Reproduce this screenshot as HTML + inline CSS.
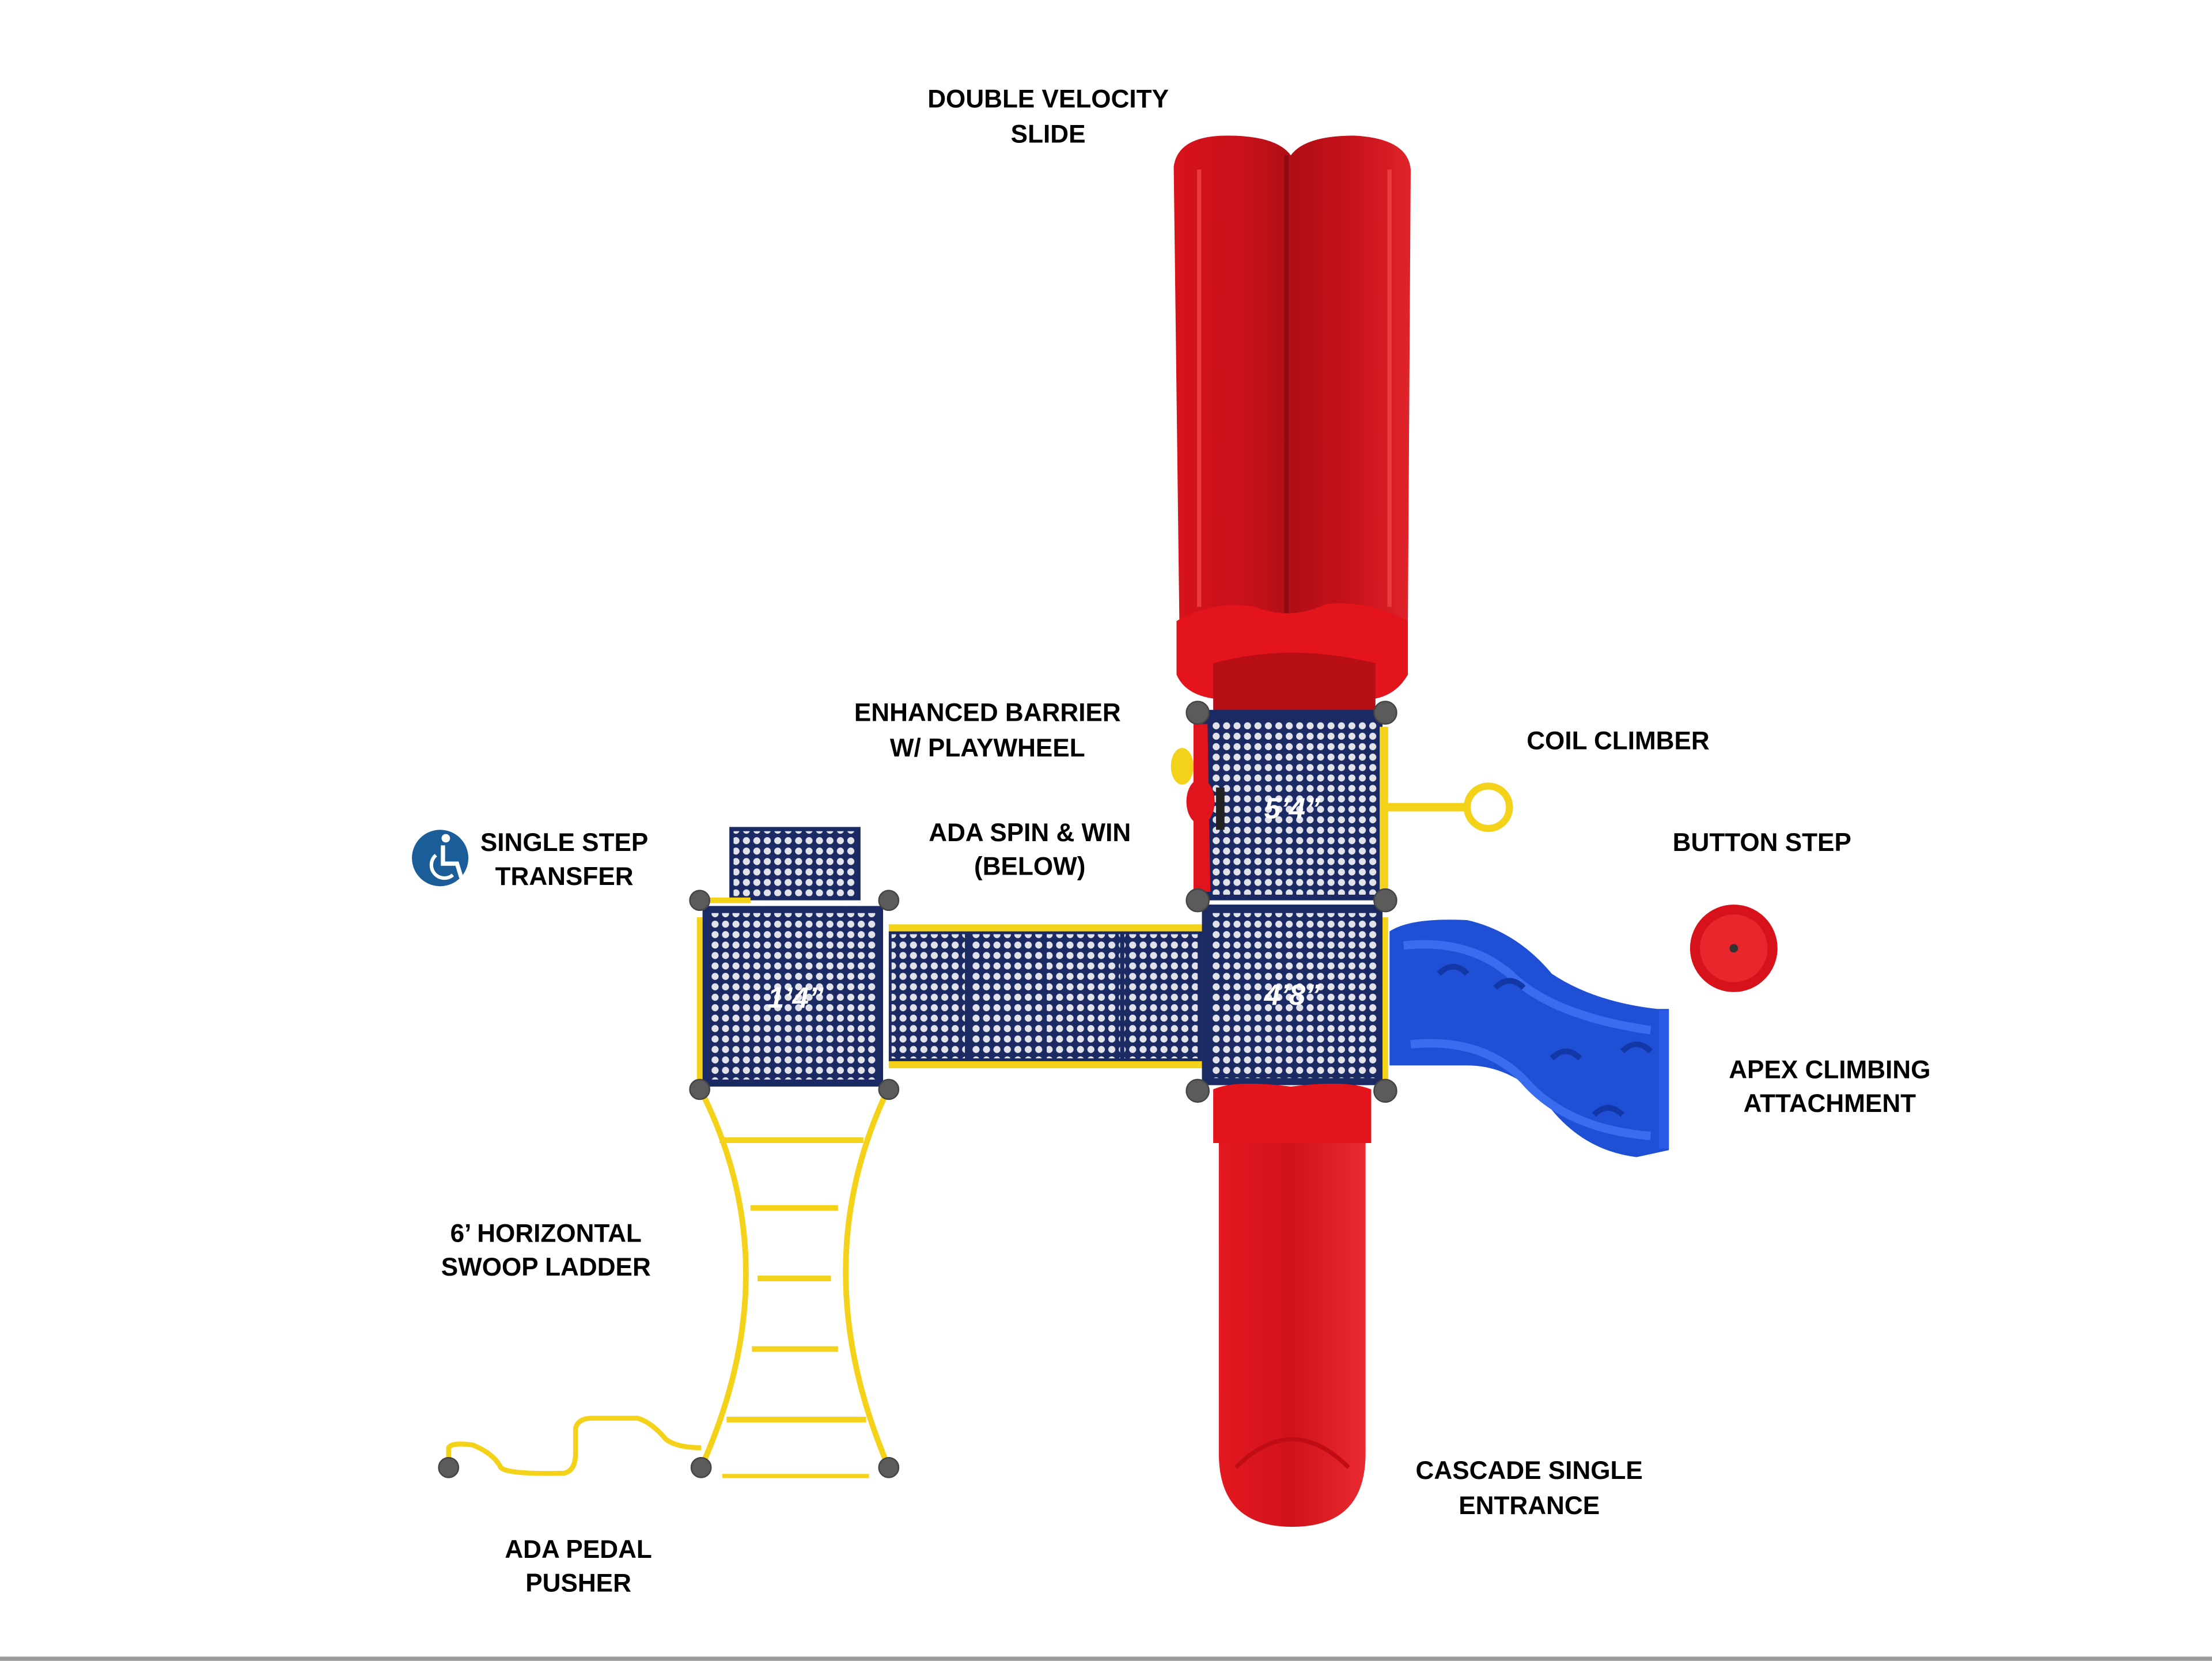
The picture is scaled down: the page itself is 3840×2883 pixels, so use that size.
<!DOCTYPE html>
<html><head><meta charset="utf-8"><style>
html,body{margin:0;padding:0;background:#fff;}
svg{display:block;}
text{font-family:"Liberation Sans",sans-serif;font-weight:bold;font-size:18px;fill:#000;text-anchor:middle;}
.d{fill:#fff;font-size:21px;font-style:italic;}
</style></head><body>
<svg width="3840" height="2883" viewBox="0 0 1568 1177" xmlns="http://www.w3.org/2000/svg">
<defs>
<pattern id="dots" width="7.4" height="7.4" patternUnits="userSpaceOnUse">
<rect width="7.4" height="7.4" fill="#1b2a63"/><circle cx="3.7" cy="3.7" r="2.5" fill="#e2e3ea"/>
</pattern>
<linearGradient id="red" x1="0" x2="1"><stop offset="0" stop-color="#d8121a"/><stop offset="0.3" stop-color="#c8111a"/><stop offset="0.5" stop-color="#b00e16"/><stop offset="0.75" stop-color="#c8111a"/><stop offset="1" stop-color="#e0242a"/></linearGradient>
<linearGradient id="red2" x1="0" x2="1"><stop offset="0" stop-color="#e41820"/><stop offset="0.5" stop-color="#d0121a"/><stop offset="1" stop-color="#ea2a30"/></linearGradient>
</defs>
<rect width="1568" height="1177" fill="#fff"/>
<rect x="0" y="1174" width="1568" height="3" fill="#9a9a9a"/>

<!-- top slide -->
<path d="M832 118 Q835 96 870 96 Q905 96 915 110 Q925 96 960 96 Q998 98 1000 120 L998 440 L836 440 Z" fill="url(#red)"/>
<path d="M912 110 L912 440" stroke="#8e0b12" stroke-width="3"/>
<path d="M850 120 L850 430 M985 120 L985 430" stroke="#e83a3f" stroke-width="3"/>
<path d="M834 440 Q860 425 890 430 Q915 440 940 428 Q970 425 998 440 L998 478 Q990 492 975 495 L860 495 Q840 492 834 478 Z" fill="#e3141c"/>
<path d="M860 470 Q915 455 975 470 L975 505 L860 505 Z" fill="#b80f17"/>

<!-- top-right deck -->
<rect x="852" y="503" width="128" height="135" fill="#1b2a63"/>
<rect x="858" y="510" width="118" height="124" fill="url(#dots)"/>
<text class="d" x="916" y="580">5’4”</text>
<ellipse cx="838" cy="543" rx="8" ry="13" fill="#f3d21c"/>
<path d="M846 513 L856 513 L858 632 L846 632 Z" fill="#e0141c"/>
<ellipse cx="851" cy="568" rx="10" ry="16" fill="#e0141c"/>
<rect x="862" y="558" width="6" height="30" fill="#222"/>
<rect x="978" y="515" width="6" height="118" fill="#f5d21a"/>
<rect x="978" y="650" width="6" height="115" fill="#f5d21a"/>
<rect x="982" y="569" width="58" height="6" fill="#f5d21a"/>
<circle cx="1055" cy="572" r="15" fill="none" stroke="#f5d21a" stroke-width="5"/>

<!-- right-center deck -->
<rect x="852" y="641" width="128" height="128" fill="#1b2a63"/>
<rect x="858" y="647" width="118" height="117" fill="url(#dots)"/>
<text class="d" x="916" y="712">4’8”</text>

<!-- bridge -->
<rect x="630" y="655" width="222" height="5" fill="#f5d21a"/>
<rect x="630" y="752" width="222" height="5" fill="#f5d21a"/>
<rect x="630" y="660" width="222" height="92" fill="#1b2a63"/>
<rect x="632" y="662" width="52" height="88" fill="url(#dots)"/>
<rect x="687" y="662" width="52" height="88" fill="url(#dots)"/>
<rect x="742" y="662" width="52" height="88" fill="url(#dots)"/>
<rect x="797" y="662" width="52" height="88" fill="url(#dots)"/>

<!-- left deck and step -->
<rect x="517" y="586" width="93" height="52" fill="#1b2a63"/>
<rect x="520" y="589" width="87" height="46" fill="url(#dots)"/>
<rect x="498" y="642" width="128" height="128" fill="#1b2a63"/>
<rect x="503" y="647" width="118" height="118" fill="url(#dots)"/>
<text class="d" x="564" y="714">1’4”</text>
<rect x="500" y="636" width="32" height="4" fill="#f5d21a"/>
<rect x="494" y="650" width="4" height="115" fill="#f5d21a"/>

<!-- blue climber -->
<path d="M985 660 Q1000 650 1040 652 Q1075 660 1100 690 Q1130 710 1175 715 L1183 715 L1183 815 L1160 820 Q1120 815 1095 780 Q1070 755 1040 755 L985 755 Z" fill="#1f4fd4"/>
<path d="M995 670 Q1040 665 1070 690 Q1100 720 1170 730 M1000 740 Q1050 735 1080 765 Q1110 800 1170 805" stroke="#3a6cf0" stroke-width="6" fill="none"/>
<path d="M1020 690 q10 -10 20 0 M1060 700 q10 -10 20 0 M1100 750 q10 -10 20 0 M1130 790 q10 -10 20 0 M1150 745 q10 -10 20 0" stroke="#1238a8" stroke-width="4" fill="none"/>
<rect x="1176" y="716" width="7" height="98" fill="#2a5ae6"/>

<!-- button step -->
<circle cx="1229" cy="672" r="31" fill="#d8121a"/>
<circle cx="1229" cy="672" r="24" fill="#e8262c"/>
<circle cx="1229" cy="672" r="3" fill="#333"/>

<!-- bottom slide -->
<path d="M860 772 Q875 765 915 770 Q955 765 972 772 L972 810 L860 810 Z" fill="#e3141c"/>
<path d="M864 810 L968 810 L968 1030 Q968 1082 916 1082 Q864 1082 864 1030 Z" fill="url(#red2)"/>
<path d="M876 1040 Q916 1000 956 1040" stroke="#c00d15" stroke-width="3" fill="none"/>

<!-- ladder -->
<g stroke="#f5d21a" fill="none" stroke-width="4">
<path d="M498 775 Q560 900 497 1040"/>
<path d="M628 775 Q570 900 630 1040"/>
<path d="M510 808 L612 808 M532 856 L594 856 M537 906 L589 906 M533 956 L594 956 M515 1006 L614 1006"/>
<path d="M512 1046 L616 1046" stroke-width="3"/>
<path d="M318 1040 L318 1026 Q320 1022 335 1024 Q350 1030 355 1040 Q360 1045 400 1044 Q408 1042 408 1030 L408 1012 Q410 1005 420 1005 L452 1005 Q462 1008 472 1020 Q480 1026 497 1026" stroke-width="3.5"/>
</g>

<!-- posts -->
<g fill="#5b5b5b" stroke="#444" stroke-width="1">
<circle cx="849" cy="505" r="8"/><circle cx="982" cy="505" r="8"/>
<circle cx="849" cy="638" r="8"/><circle cx="982" cy="638" r="8"/>
<circle cx="849" cy="773" r="8"/><circle cx="982" cy="773" r="8"/>
<circle cx="496" cy="638" r="7"/><circle cx="630" cy="638" r="7"/>
<circle cx="496" cy="772" r="7"/><circle cx="630" cy="772" r="7"/>
<circle cx="497" cy="1040" r="7"/><circle cx="630" cy="1040" r="7"/>
<circle cx="318" cy="1040" r="7"/>
</g>

<!-- ADA icon -->
<circle cx="312" cy="608" r="20" fill="#1b5d98"/>
<circle cx="316" cy="594" r="3" fill="#fff"/>
<path d="M314 599 L314 612 L324 612 L327 622" stroke="#fff" stroke-width="3" fill="none"/>
<path d="M309 606 A9 9 0 1 0 321 620" stroke="#fff" stroke-width="2.5" fill="none"/>

<!-- labels -->
<text x="743" y="76">DOUBLE VELOCITY</text><text x="743" y="101">SLIDE</text>
<text x="700" y="511">ENHANCED BARRIER</text><text x="700" y="536">W/ PLAYWHEEL</text>
<text x="1147" y="531">COIL CLIMBER</text>
<text x="1249" y="603">BUTTON STEP</text>
<text x="730" y="596">ADA SPIN &amp; WIN</text><text x="730" y="620">(BELOW)</text>
<text x="400" y="603">SINGLE STEP</text><text x="400" y="627">TRANSFER</text>
<text x="1297" y="764">APEX CLIMBING</text><text x="1297" y="788">ATTACHMENT</text>
<text x="387" y="880">6’ HORIZONTAL</text><text x="387" y="904">SWOOP LADDER</text>
<text x="1084" y="1048">CASCADE SINGLE</text><text x="1084" y="1073">ENTRANCE</text>
<text x="410" y="1104">ADA PEDAL</text><text x="410" y="1128">PUSHER</text>
</svg>
</body></html>
